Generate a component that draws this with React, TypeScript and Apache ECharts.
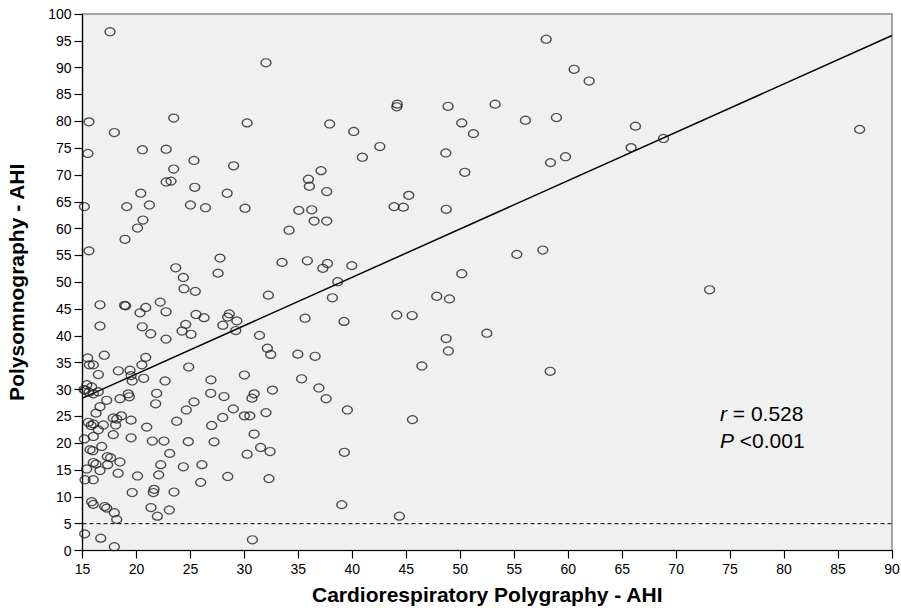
import React, { useEffect, useRef } from "react";
import * as echarts from "echarts";

// Cardiorespiratory Polygraphy AHI (x) vs Polysomnography AHI (y)
const pointsX: number[] = [
  17.55, 15.6, 17.95, 15.5, 23.45, 30.25, 20.55, 22.75, 25.33, 23.45, 29.0, 22.75, 23.2, 25.4, 20.4, 28.4,
  15.17, 19.1, 21.2, 25.0, 26.4, 30.06, 20.6, 20.1, 18.94, 15.6, 27.74, 23.64, 27.56, 24.34, 24.4, 25.45,
  16.62, 18.9, 19.0, 22.2, 20.86, 20.33, 22.74, 25.52, 26.26, 28.6, 28.45, 29.3, 24.56, 28.0, 16.62, 20.54,
  24.22, 29.2, 21.32, 25.06, 31.4, 22.74, 15.48, 17.02, 20.86, 15.63, 16.0, 20.5, 24.84, 18.32, 19.4, 30.0,
  16.47, 19.5, 19.6, 20.67, 22.65, 26.9, 15.4, 15.85, 15.14, 15.25, 15.6, 16.0, 16.46, 19.24, 19.34, 21.87,
  26.88, 28.11, 30.9, 30.7, 17.24, 18.47, 21.78, 25.33, 16.62, 16.25, 24.62, 28.97, 18.6, 17.85, 18.17, 30.0,
  30.5, 15.54, 16.0, 15.8, 16.93, 18.07, 19.5, 20.95, 23.73, 26.97, 27.99, 16.46, 17.85, 30.9, 15.17, 16.0,
  19.5, 16.78, 21.47, 22.55, 24.8, 27.19, 31.5, 15.7, 15.95, 17.3, 17.6, 17.33, 23.08, 30.25, 15.39, 16.0,
  16.25, 16.62, 18.47, 18.3, 22.25, 22.06, 24.34, 26.07, 28.46, 15.23, 16.0, 25.95, 20.1, 19.6, 21.63, 21.56,
  23.48, 15.85, 16.0, 17.06, 17.24, 17.95, 18.17, 21.35, 23.04, 21.94, 15.2, 16.69, 17.95, 30.74,
  32.0, 37.9, 40.13, 44.17, 44.12, 48.87, 42.55, 40.93, 48.66, 37.1, 35.93, 36.02, 37.63, 45.23,
  35.04, 36.24, 36.46, 37.63, 43.87, 44.73, 48.7, 34.14, 33.49, 35.83, 37.7, 37.27, 39.95, 38.65, 32.22, 38.15,
  47.82, 49.0, 35.62, 39.23, 44.12, 45.54, 32.13, 32.44, 34.95, 36.55, 48.69, 48.9, 46.44,
  35.3, 36.9, 37.57, 32.6, 32.0, 39.54, 45.57, 32.38, 39.26, 32.28, 39.02, 44.36,
  57.96, 60.55, 61.94, 53.23, 50.14, 51.22, 56.04, 58.91, 66.23, 50.42, 58.36, 59.75, 65.83, 68.83, 55.24, 57.65,
  50.14, 52.46, 58.33, 87.0, 73.1,
];

const pointsY: number[] = [
  96.7, 79.9, 77.9, 74.0, 80.6, 79.7, 74.7, 74.8, 72.7, 71.1, 71.7, 68.7, 68.85, 67.7, 66.6, 66.6,
  64.1, 64.1, 64.4, 64.4, 63.9, 63.8, 61.6, 60.1, 58.0, 55.85, 54.5, 52.7, 51.7, 50.9, 48.8, 48.3,
  45.8, 45.7, 45.6, 46.3, 45.3, 44.3, 44.5, 44.0, 43.4, 44.1, 43.5, 42.8, 42.15, 42.0, 41.85, 41.7,
  40.9, 41.0, 40.4, 40.3, 40.1, 39.4, 35.9, 36.4, 36.0, 34.6, 34.6, 34.6, 34.2, 33.5, 33.6, 32.7,
  32.8, 32.6, 31.6, 32.1, 31.6, 31.8, 30.9, 30.5, 30.0, 29.9, 29.5, 29.2, 29.6, 29.2, 28.65, 29.3,
  29.3, 28.7, 29.2, 28.4, 28.0, 28.3, 27.35, 27.7, 26.8, 25.6, 26.2, 26.4, 25.1, 24.7, 24.5, 25.1,
  25.1, 23.9, 23.6, 23.3, 23.4, 23.4, 24.3, 23.0, 24.1, 23.3, 24.8, 22.5, 21.6, 21.7, 20.8, 21.25,
  21.0, 19.4, 20.4, 20.4, 20.3, 20.25, 19.2, 18.8, 18.6, 17.5, 17.3, 16.0, 18.1, 17.95, 15.2, 16.4,
  16.1, 14.9, 16.5, 14.4, 16.0, 14.1, 15.6, 16.0, 13.8, 13.2, 13.2, 12.7, 13.9, 10.8, 11.4, 10.8,
  10.9, 9.1, 8.6, 8.2, 7.9, 7.05, 5.8, 8.0, 7.55, 6.4, 3.1, 2.3, 0.7, 2.0,
  90.9, 79.5, 78.1, 83.2, 82.7, 82.8, 75.3, 73.3, 74.1, 70.8, 69.2, 67.9, 66.9, 66.2,
  63.4, 63.5, 61.4, 61.4, 64.1, 64.0, 63.6, 59.7, 53.7, 54.0, 53.5, 52.6, 53.1, 50.1, 47.6, 47.1,
  47.4, 46.9, 43.3, 42.7, 43.9, 43.8, 37.7, 36.55, 36.6, 36.2, 39.5, 37.2, 34.4,
  32.0, 30.3, 28.3, 29.9, 25.7, 26.2, 24.4, 18.45, 18.3, 13.4, 8.55, 6.4,
  95.3, 89.7, 87.5, 83.2, 79.7, 77.7, 80.2, 80.7, 79.1, 70.5, 72.3, 73.4, 75.1, 76.8, 55.2, 56.0,
  51.6, 40.5, 33.4, 78.5, 48.6,
];

// Fit line end points (x, y)
const fitX: number[] = [15, 90];
const fitY: number[] = [28.4, 96.0];

// Reference cut-off
const cutoffY = 5;

const xTicks = { min: 15, max: 90, interval: 5 };
const yTicks = { min: 0, max: 100, interval: 5 };

const FONT = '"Liberation Sans", Arial, sans-serif';

export default function App() {
  const ref = useRef<HTMLDivElement>(null);

  useEffect(() => {
    if (!ref.current) return;
    const chart = echarts.init(ref.current, undefined, { renderer: "svg" });
    const scatterData = pointsX.map((x, i) => [x, pointsY[i]]);
    const fitData = fitX.map((x, i) => [x, fitY[i]]);

    chart.setOption({
      animation: false,
      backgroundColor: "#ffffff",
      grid: {
        left: 82.5,
        right: 9,
        top: 14,
        bottom: 57.5,
        containLabel: false,
        outerBoundsMode: "none",
        show: true,
        backgroundColor: "#f0f0f0",
        borderColor: "#8a8a8a",
        borderWidth: 1.5,
      },
      xAxis: {
        type: "value",
        min: xTicks.min,
        max: xTicks.max,
        interval: xTicks.interval,
        name: "Cardiorespiratory Polygraphy - AHI",
        nameLocation: "middle",
        nameGap: 33,
        nameTextStyle: { fontFamily: FONT, fontWeight: "bold", fontSize: 21, color: "#000" },
        axisLine: { show: true, onZero: false, lineStyle: { color: "#000", width: 1.2 } },
        axisTick: { show: true, length: 8, lineStyle: { color: "#000", width: 1.2 } },
        axisLabel: { fontFamily: FONT, fontSize: 14, color: "#000", margin: 11 },
        splitLine: { show: false },
      },
      yAxis: {
        type: "value",
        min: yTicks.min,
        max: yTicks.max,
        interval: yTicks.interval,
        name: "Polysomnography - AHI",
        nameLocation: "middle",
        nameGap: 56,
        nameTextStyle: { fontFamily: FONT, fontWeight: "bold", fontSize: 21, color: "#000" },
        axisLine: { show: true, onZero: false, lineStyle: { color: "#000", width: 1.2 } },
        axisTick: { show: true, length: 8, lineStyle: { color: "#000", width: 1.2 } },
        axisLabel: { fontFamily: FONT, fontSize: 14, color: "#000", margin: 11 },
        splitLine: { show: false },
      },
      series: [
        {
          type: "line",
          data: [[xTicks.min, cutoffY], [xTicks.max, cutoffY]],
          showSymbol: false,
          symbol: "none",
          lineStyle: { color: "#000", width: 1, type: [4, 3] },
          silent: true,
          z: 2,
        },
        {
          type: "line",
          data: fitData,
          showSymbol: false,
          symbol: "none",
          lineStyle: { color: "#000", width: 1.5 },
          silent: true,
          z: 3,
        },
        {
          type: "scatter",
          data: scatterData,
          symbol: "circle",
          symbolSize: [10, 8],
          itemStyle: { color: "rgba(0,0,0,0)", borderColor: "#222", borderWidth: 1.3 },
          z: 4,
        },
      ],
      graphic: [
        {
          type: "text",
          left: 720,
          top: 403,
          style: {
            text: "{i|r} = 0.528",
            rich: {
              i: { fontStyle: "italic", fontFamily: FONT, fontSize: 21, fill: "#000" },
            },
            fontFamily: FONT,
            fontSize: 21,
            fill: "#000",
          },
        },
        {
          type: "text",
          left: 720,
          top: 430,
          style: {
            text: "{i|P} <0.001",
            rich: {
              i: { fontStyle: "italic", fontFamily: FONT, fontSize: 21, fill: "#000" },
            },
            fontFamily: FONT,
            fontSize: 21,
            fill: "#000",
          },
        },
      ],
    });

    return () => chart.dispose();
  }, []);

  return (
    <div
      ref={ref}
      style={{ position: "absolute", left: 0, top: 0, width: 901, height: 608 }}
    />
  );
}
